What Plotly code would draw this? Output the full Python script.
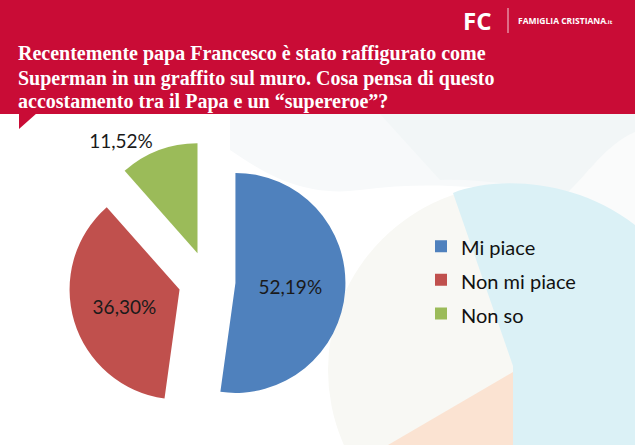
import plotly.graph_objects as go

# ---- data ----
categories = ["Mi piace", "Non mi piace", "Non so"]
values = [52.19, 36.30, 11.52]
colors = ["#4F81BD", "#C0504D", "#9BBB59"]
pulls = [0.25, 0.27, 0.27]
text_positions = ["inside", "inside", "outside"]
title_lines = [
    "Recentemente papa Francesco è stato raffigurato come",
    "Superman in un graffito sul muro. Cosa pensa di questo",
    "accostamento tra il Papa e un “supereroe”?",
]

W, H = 635, 445


def px(x):
    return x / W


def py(y):
    return 1 - y / H


def path(cmds):
    out = []
    for c in cmds:
        if isinstance(c, str):
            out.append(c)
        else:
            out.append(f"{px(c[0]):.5f},{py(c[1]):.5f}")
    return " ".join(out)


# pie domain (pixel box converted to paper)
cx, cy, half = 208, 281, 139.7

fig = go.Figure(
    go.Pie(
        labels=[f"<span style='font-size:20px'>{c}</span>" for c in categories],
        values=values,
        marker=dict(colors=colors, line=dict(width=0)),
        pull=pulls,
        sort=False,
        direction="clockwise",
        rotation=0,
        textposition=text_positions,
        texttemplate="%{value:.2f}%",
        textfont=dict(family="Lato", size=19, color="#1a1a1a"),
        insidetextorientation="horizontal",
        hoverinfo="label+value",
        automargin=False,
        domain=dict(x=[px(cx - half), px(cx + half)], y=[py(cy + half), py(cy - half)]),
        showlegend=True,
    )
)

shapes = []
# background decorations
shapes.append(dict(type="path", xref="paper", yref="paper", layer="below",
                   path=path(["M", (230, 114), "L", (635, 114), "L", (635, 215),
                              "C", (560, 200), (470, 175), (360, 190),
                              "C", (300, 198), (260, 170), (230, 150), "Z"]),
                   fillcolor="#F7F9FA", line=dict(width=0)))
shapes.append(dict(type="path", xref="paper", yref="paper", layer="below",
                   path=path(["M", (380, 114), "L", (635, 114), "L", (635, 210),
                              "C", (570, 195), (500, 178), (440, 180), "Z"]),
                   fillcolor="#F2F6F7", line=dict(width=0)))
shapes.append(dict(type="path", xref="paper", yref="paper", layer="below",
                   path=path(["M", (560, 200), "C", (590, 172), (605, 145), (635, 132), "L", (635, 235), "Z"]),
                   fillcolor="#FAFBFB", line=dict(width=0)))
shapes.append(dict(type="circle", xref="paper", yref="paper", layer="below",
                   x0=px(513 - 185), x1=px(513 + 185), y0=py(370 + 185), y1=py(370 - 185),
                   fillcolor="#F8F8F4", line=dict(width=0)))
shapes.append(dict(type="path", xref="paper", yref="paper", layer="below",
                   path=path(["M", (453, 193), "C", (490, 178), (570, 175), (635, 225),
                              "L", (635, 445), "L", (513, 445), "L", (513, 366), "Z"]),
                   fillcolor="#DBF1F6", line=dict(width=0)))
shapes.append(dict(type="path", xref="paper", yref="paper", layer="below",
                   path=path(["M", (513, 372), "L", (388, 445), "L", (513, 445), "Z"]),
                   fillcolor="#FBE3D2", line=dict(width=0)))
# header banner
shapes.append(dict(type="rect", xref="paper", yref="paper", layer="below",
                   x0=0, x1=1, y0=py(114), y1=1, fillcolor="#C90C36", line=dict(width=0)))
shapes.append(dict(type="path", xref="paper", yref="paper", layer="below",
                   path=path(["M", (19, 113), "L", (37, 113), "L", (19, 129), "Z"]),
                   fillcolor="#C90C36", line=dict(width=0)))
# logo separator
shapes.append(dict(type="line", xref="paper", yref="paper", layer="above",
                   x0=px(508), x1=px(508), y0=py(8), y1=py(33),
                   line=dict(color="rgba(255,255,255,0.8)", width=1)))

annotations = []
for i, line in enumerate(title_lines):
    annotations.append(dict(text=line, xref="paper", yref="paper",
                            x=px(16), y=py(54 + 24 * i), xanchor="left", yanchor="middle",
                            align="left", showarrow=False,
                            font=dict(family="Liberation Serif", size=20, color="white", weight="bold")))
annotations += [
    dict(text="<b>FC</b>", xref="paper", yref="paper", x=px(461), y=py(20),
         xanchor="left", yanchor="middle", showarrow=False,
         font=dict(family="Open Sans", size=24, color="white")),
    dict(text="<b>FAMIGLIA CRISTIANA</b><span style='font-size:6px'><b>.it</b></span>",
         xref="paper", yref="paper", x=px(516), y=py(21),
         xanchor="left", yanchor="middle", showarrow=False,
         font=dict(family="Open Sans", size=8.5, color="white")),
]

fig.update_layout(
    width=W, height=H,
    margin=dict(l=0, r=0, t=0, b=0, pad=0, autoexpand=False),
    paper_bgcolor="white",
    plot_bgcolor="white",
    separators=",.",
    shapes=shapes,
    annotations=annotations,
    legend=dict(x=px(421), y=py(280), xanchor="left", yanchor="middle",
                font=dict(family="Lato", size=23.5, color="#111111"),
                itemwidth=30,
                bgcolor="rgba(0,0,0,0)", traceorder="normal"),
)

fig.write_html("out.html")
